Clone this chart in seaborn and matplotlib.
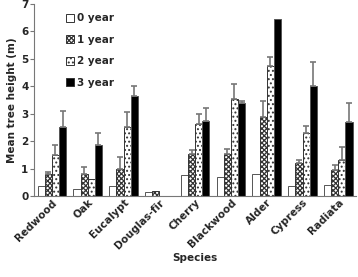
import numpy as np
import pandas as pd
import matplotlib
matplotlib.use("Agg")
import matplotlib.pyplot as plt
import seaborn as sns

# Values
species = ["Redwood", "Oak", "Eucalypt", "Douglas-fir", "Cherry",
           "Blackwood", "Alder", "Cypress", "Radiata"]
ages = ["0 year", "1 year", "2 year", "3 year"]
h0 = [0.38, 0.27, 0.37, 0.15, 0.77, 0.70, 0.80, 0.38, 0.42]
h1 = [0.80, 0.80, 1.00, 0.17, 1.52, 1.55, 2.88, 1.20, 0.95]
h2 = [1.48, 0.62, 2.50, 0.0, 2.63, 3.55, 4.75, 2.29, 1.31]
h3 = [2.50, 1.85, 3.65, 0.0, 2.74, 3.38, 6.44, 4.02, 2.70]
e0 = [0.0, 0.0, 0.0, 0.0, 0.0, 0.0, 0.0, 0.0, 0.0]
e1 = [0.08, 0.25, 0.42, 0.0, 0.16, 0.17, 0.58, 0.12, 0.18]
e2 = [0.37, 0.0, 0.57, 0.0, 0.36, 0.52, 0.30, 0.27, 0.49]
e3 = [0.60, 0.45, 0.35, 0.0, 0.46, 0.07, 0.0, 0.88, 0.70]

df = pd.DataFrame({
    "Species": species * 4,
    "Age": np.repeat(ages, len(species)),
    "Height": h0 + h1 + h2 + h3,
    "Err": e0 + e1 + e2 + e3,
})

sns.set_style("white")
plt.rcParams["font.family"] = ["DejaVu Sans"]
plt.rcParams["hatch.linewidth"] = 0.9

fig, ax = plt.subplots(figsize=(3.58, 2.77), dpi=100)
fig.subplots_adjust(left=0.095, right=0.995, bottom=0.292, top=0.986)

sns.barplot(data=df, x="Species", y="Height", hue="Age", order=species,
            hue_order=ages, errorbar=None, width=0.8, ax=ax,
            palette=["white", "white", "white", "black"],
            edgecolor="#555555", linewidth=0.7)

hatches = ["", "xxxxxxx", "....", ""]
for cont, hatch, errs in zip(ax.containers, hatches, [e0, e1, e2, e3]):
    for bar, err in zip(cont, errs):
        bar.set_hatch(hatch)
        if hatch:
            bar.set_edgecolor("#333333")
        if err > 0:
            x = bar.get_x() + bar.get_width() / 2
            ax.errorbar(x, bar.get_height(), yerr=[[0], [err]], fmt="none",
                        ecolor="#777777", elinewidth=1.2, capsize=2.5,
                        capthick=1.2)

ax.set_ylim(0, 7)
ax.set_yticks(range(8))
ax.set_xlim(-0.5, len(species) - 0.5)
sns.despine(ax=ax)
ax.spines["left"].set_color("#777777")
ax.spines["bottom"].set_color("#777777")
ax.tick_params(axis="both", length=3, width=0.8, color="#777777", pad=1,
               bottom=True, left=True, labelsize=7.5)
ax.set_xticks(np.arange(len(species) + 1) - 0.5, minor=True)
ax.tick_params(axis="x", which="major", length=0)
ax.tick_params(axis="x", which="minor", length=3, color="#777777")
ax.set_xticks(range(len(species)))
ax.set_xticklabels(species, rotation=45, ha="right", rotation_mode="anchor",
                   fontweight="bold")
for lab in ax.get_yticklabels():
    lab.set_fontweight("bold")
ax.set_xlabel("Species", fontsize=7.5, fontweight="bold", labelpad=2)
ax.set_ylabel("Mean tree height (m)", fontsize=7.5, fontweight="bold",
              labelpad=3)

leg = ax.legend(loc="upper left", bbox_to_anchor=(0.07, 1.0), frameon=False,
                prop={"size": 7.5, "weight": "bold"}, handlelength=0.8,
                handleheight=0.8, handletextpad=0.3, labelspacing=1.1)
for handle, hatch in zip(leg.legend_handles, hatches):
    handle.set_hatch(hatch)
    handle.set_edgecolor("#333333")

fig.savefig("out.png", dpi=100)
